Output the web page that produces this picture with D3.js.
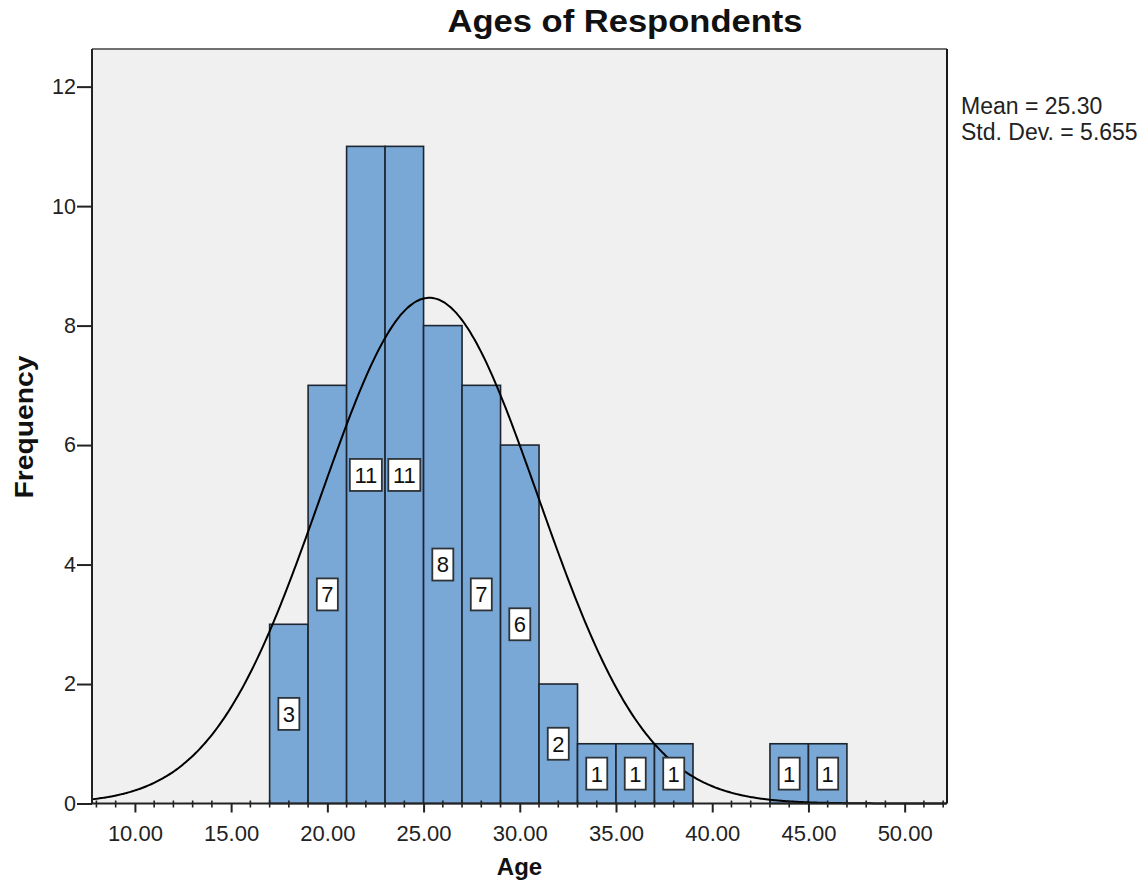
<!DOCTYPE html>
<html>
<head>
<meta charset="utf-8">
<script src="https://cdn.jsdelivr.net/npm/d3@7"></script>
<style>
  html, body { margin: 0; padding: 0; background: #ffffff; }
  svg { display: block; font-family: "Liberation Sans", Arial, Helvetica, sans-serif; }
</style>
</head>
<body>
<svg id="chart" width="1147" height="884"></svg>
<script>
// ---- data ----
const binStarts = [17, 19, 21, 23, 25, 27, 29, 31, 33, 35, 37, 43, 45];
const counts    = [3, 7, 11, 11, 8, 7, 6, 2, 1, 1, 1, 1, 1];
const binWidth = 2;
const meanAge = 25.30;
const sdAge = 5.655;
const yTickValues = [0, 2, 4, 6, 8, 10, 12];
const xMajorTicks = [10, 15, 20, 25, 30, 35, 40, 45, 50];
const titleText = "Ages of Respondents";
const xTitle = "Age";
const yTitle = "Frequency";
const statLines = ["Mean = 25.30", "Std. Dev. = 5.655"];

// ---- layout ----
const svg = d3.select("#chart");
const pL = 92, pR = 947, pT = 49, pB = 803.5;

const x = d3.scaleLinear().domain([7.77, 52.2]).range([pL, pR]);
const y = d3.scaleLinear().domain([0, 12.63]).range([pB, pT]);

// plot background
svg.append("rect")
  .attr("x", pL).attr("y", pT)
  .attr("width", pR - pL).attr("height", pB - pT)
  .attr("fill", "#f0f0f0");

// bars
const bins = binStarts.map((s, i) => ({ x0: s, x1: s + binWidth, n: counts[i] }));
svg.append("g").selectAll("rect").data(bins).join("rect")
  .attr("x", d => x(d.x0))
  .attr("y", d => y(d.n))
  .attr("width", d => x(d.x1) - x(d.x0))
  .attr("height", d => y(0) - y(d.n))
  .attr("fill", "#7aa8d6")
  .attr("stroke", "#1d2630")
  .attr("stroke-width", 1.6);

// normal curve
const N = d3.sum(counts);
const dens = v => N * binWidth / (sdAge * Math.sqrt(2 * Math.PI)) *
  Math.exp(-0.5 * Math.pow((v - meanAge) / sdAge, 2));
const curvePts = d3.range(7.77, 52.2001, 0.1).map(v => [v, dens(v)]);
svg.append("path")
  .datum(curvePts)
  .attr("d", d3.line().x(d => x(d[0])).y(d => y(d[1])).curve(d3.curveBasis))
  .attr("fill", "none")
  .attr("stroke", "#000")
  .attr("stroke-width", 2);

// count labels
const lab = svg.append("g").selectAll("g").data(bins).join("g")
  .attr("transform", d => `translate(${x((d.x0 + d.x1) / 2)},${y(d.n / 2)})`);
lab.append("rect")
  .attr("x", d => -(String(d.n).length > 1 ? 16 : 10.5))
  .attr("y", -16)
  .attr("width", d => String(d.n).length > 1 ? 32 : 21)
  .attr("height", 32)
  .attr("fill", "#ffffff")
  .attr("stroke", "#2e3338")
  .attr("stroke-width", 1.8);
lab.append("text")
  .attr("text-anchor", "middle")
  .attr("dy", "0.36em")
  .attr("font-size", 22)
  .attr("fill", "#111")
  .text(d => d.n);

// frame (top and right)
svg.append("line").attr("x1", pL).attr("x2", pR).attr("y1", pT).attr("y2", pT)
  .attr("stroke", "#707070").attr("stroke-width", 2);
svg.append("line").attr("x1", pR).attr("x2", pR).attr("y1", pT).attr("y2", pB)
  .attr("stroke", "#1a1a1a").attr("stroke-width", 2);

// y axis
const yAxis = d3.axisLeft(y).tickValues(yTickValues).tickSize(15).tickPadding(1)
  .tickFormat(d3.format("d"));
const gy = svg.append("g").attr("transform", `translate(${pL},0)`).call(yAxis);
gy.select(".domain").attr("d", `M0,${pT}V${pB}`).attr("stroke", "#222").attr("stroke-width", 2);
gy.selectAll(".tick line").attr("stroke", "#222").attr("stroke-width", 2);
gy.selectAll(".tick text").attr("font-size", 21.5).attr("fill", "#222")
  .attr("font-family", "'Liberation Sans', Arial, sans-serif");

// x axis - minor ticks
const minorTicks = d3.range(8, 53).filter(v => v % 5 !== 0);
svg.append("g").selectAll("line").data(minorTicks).join("line")
  .attr("x1", d => x(d)).attr("x2", d => x(d))
  .attr("y1", pB - 3).attr("y2", pB + 4)
  .attr("stroke", "#222").attr("stroke-width", 1.6);

// x axis - major
const xAxis = d3.axisBottom(x).tickValues(xMajorTicks).tickSize(9).tickPadding(13)
  .tickFormat(d3.format(".2f"));
const gx = svg.append("g").attr("transform", `translate(0,${pB})`).call(xAxis);
gx.select(".domain").attr("d", `M${pL},0H${pR}`).attr("stroke", "#222").attr("stroke-width", 2);
gx.selectAll(".tick line").attr("stroke", "#222").attr("stroke-width", 2);
gx.selectAll(".tick text").attr("font-size", 22).attr("fill", "#222")
  .attr("font-family", "'Liberation Sans', Arial, sans-serif");

// titles
svg.append("text")
  .attr("x", 625).attr("y", 32)
  .attr("text-anchor", "middle")
  .attr("font-size", 31).attr("font-weight", "bold").attr("fill", "#111")
  .attr("textLength", 355).attr("lengthAdjust", "spacingAndGlyphs")
  .text(titleText);

svg.append("text")
  .attr("x", (pL + pR) / 2).attr("y", 875)
  .attr("text-anchor", "middle")
  .attr("font-size", 24).attr("font-weight", "bold").attr("fill", "#111")
  .text(xTitle);

svg.append("text")
  .attr("transform", `translate(33,427) rotate(-90)`)
  .attr("text-anchor", "middle")
  .attr("font-size", 25).attr("font-weight", "bold").attr("fill", "#111")
  .attr("textLength", 143).attr("lengthAdjust", "spacingAndGlyphs")
  .text(yTitle);

// stats
svg.append("g").selectAll("text").data(statLines).join("text")
  .attr("x", 961)
  .attr("y", (d, i) => 114 + i * 26)
  .attr("font-size", 23)
  .attr("fill", "#222")
  .text(d => d);
</script>
</body>
</html>
